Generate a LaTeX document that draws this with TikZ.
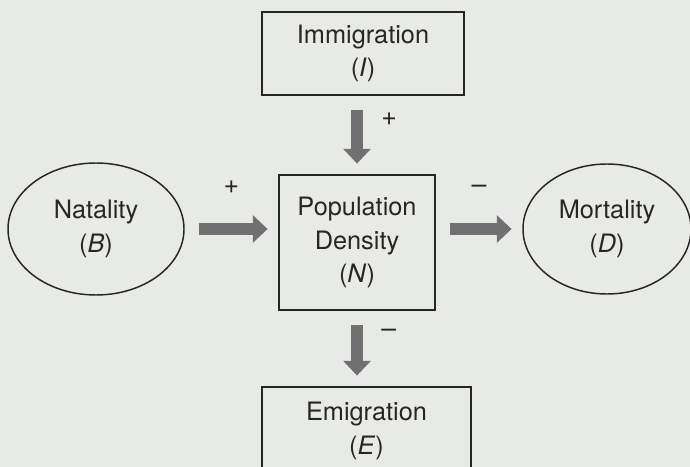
\documentclass[tikz,border=0pt]{standalone}
\usepackage{fontspec}
\setmainfont{TeX Gyre Heros}
\usetikzlibrary{arrows.meta,shapes.geometric}
\definecolor{paper}{RGB}{232,234,230}
\definecolor{ink}{RGB}{38,38,38}
\definecolor{flow}{RGB}{112,112,112}
\tikzstyle{box}=[draw=ink,line width=1.1pt,align=center,text=ink,inner sep=0pt,font=\fontsize{19}{25}\selectfont]
\tikzstyle{oval}=[ellipse,draw=ink,line width=1.1pt,align=center,text=ink,inner sep=0pt,font=\fontsize{19}{25}\selectfont]
\tikzstyle{flowarrow}=[draw=flow,line width=8.5pt,-{Triangle[length=11pt,width=20pt]},shorten <=11pt,shorten >=8pt]
\tikzstyle{sign}=[text=ink,inner sep=0pt,font=\fontsize{20}{20}\selectfont]

\begin{document}
\begin{tikzpicture}[x=0.75pt,y=-0.75pt]
  \fill[paper] (0,0) rectangle (690,467);
  \useasboundingbox (0,0) rectangle (690,467);

  \node[box, minimum width=151.5pt, minimum height=62.25pt] (imm) at (363,53.5)  {Immigration\\(\textit{I})};
  \node[box, minimum width=117pt, minimum height=101.25pt]  (pop) at (357,242.5) {Population\\Density\\(\textit{N})};
  \node[box, minimum width=156.75pt, minimum height=66pt]   (emi) at (366.5,431) {Emigration\\(\textit{E})};
  \node[oval, minimum width=132pt, minimum height=99pt]     (nat) at (96,229)    {Natality\\(\textit{B})};
  \node[oval, minimum width=126pt, minimum height=97.5pt]   (mor) at (607,229)   {Mortality\\(\textit{D})};

  \foreach \from/\to/\sign in {imm.south -| pop/pop.north/+, pop.south/emi.north -| pop/--}
  \draw[flowarrow] (\from) -- (\to) node [sign, pos=0.3, right=14pt] {\sign};
  \foreach \from/\to/\sign in {nat.east/nat.east -| pop.west/+, mor.west -| pop.east/mor.west/--}
  \draw[flowarrow] (\from) -- (\to) node [sign, midway, above=22pt] {\sign};
\end{tikzpicture}
\end{document}
